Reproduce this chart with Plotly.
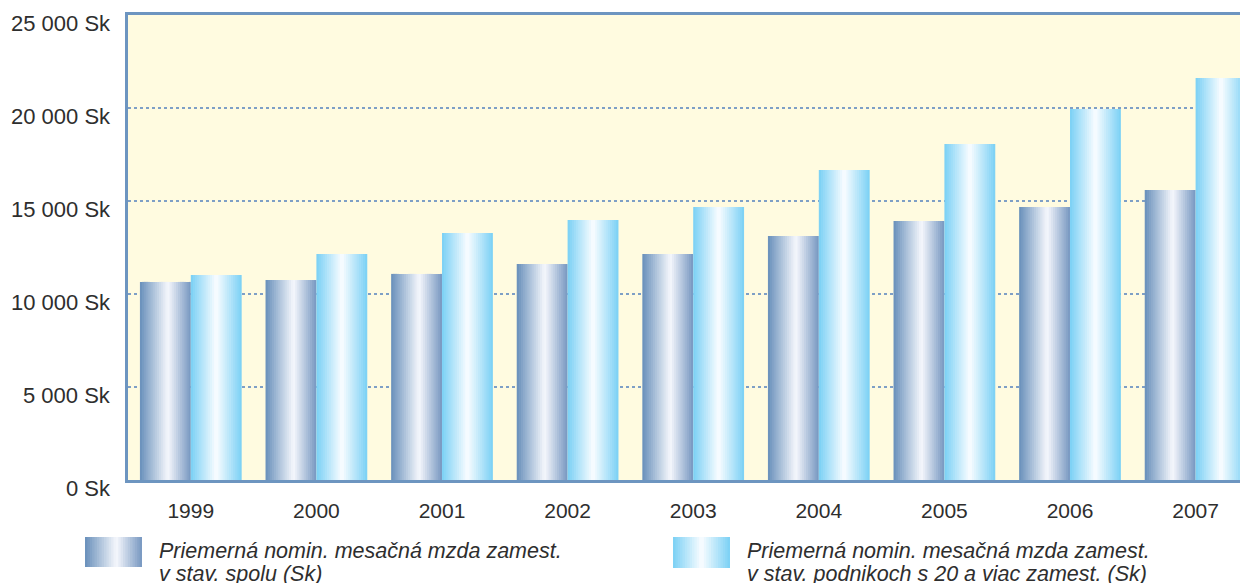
import plotly.graph_objects as go

# Data
years = ["1999", "2000", "2001", "2002", "2003", "2004", "2005", "2006", "2007"]
wage_all = [10650, 10750, 11080, 11610, 12150, 13120, 13930, 14680, 15590]
wage_20plus = [11020, 12150, 13280, 13980, 14680, 16670, 18070, 19950, 21610]
y_tick_vals = [0, 5000, 10000, 15000, 20000, 25000]
y_tick_text = ["0 Sk", "5 000 Sk", "10 000 Sk", "15 000 Sk", "20 000 Sk", "25 000 Sk"]
legend_all = ["Priemerná nomin. mesačná mzda zamest.", "v stav. spolu (Sk)"]
legend_20plus = ["Priemerná nomin. mesačná mzda zamest.",
                 "v stav. podnikoch s 20 a viac zamest. (Sk)"]

FONT = "Liberation Sans, Arial, sans-serif"
TEXT_COLOR = "#2e2e2e"
AXIS_BLUE = "#6d95c0"

# horizontal gradients (position, rgb)
GRAD_ALL = [(0.0, (104, 143, 186)), (0.55, (246, 248, 253)), (1.0, (118, 150, 192))]
GRAD_20 = [(0.0, (122, 208, 245)), (0.5, (250, 253, 255)), (1.0, (122, 208, 245))]

N_SLICES = 24

# the page body has an 8px margin: the figure is drawn from (8, 8)
# and the visible part ends at x=1240, y=583
OFFSET = 8
FIG_W, FIG_H = 1232, 575
# plot area in page pixels
PLOT_L, PLOT_R, PLOT_T, PLOT_B = 128, 1240, 15, 480
CAT_STEP_PX = 125.6  # one category in the reference, the last one runs off the edge


def blend(stops, t):
    for (t0, c0), (t1, c1) in zip(stops[:-1], stops[1:]):
        if t0 <= t <= t1:
            f = (t - t0) / (t1 - t0)
            c = [round(a + (b - a) * f) for a, b in zip(c0, c1)]
            return f"rgb({c[0]},{c[1]},{c[2]})"
    c = stops[-1][1]
    return f"rgb({c[0]},{c[1]},{c[2]})"


def px_x(x):
    return (x - PLOT_L) / (PLOT_R - PLOT_L)


def px_y(y):
    return (PLOT_B - y) / (PLOT_B - PLOT_T)


fig = go.Figure()


def add_gradient_bars(values, stops, start, width, name):
    step = width / N_SLICES
    for i in range(N_SLICES):
        t = (i + 0.5) / N_SLICES
        last = i == N_SLICES - 1
        fig.add_trace(
            go.Bar(
                x=years,
                y=values,
                width=step if last else step * 1.7,
                offset=start + i * step,
                marker=dict(color=blend(stops, t), line=dict(width=0)),
                showlegend=False,
                name=name,
                hoverinfo="skip" if i != N_SLICES // 2 else None,
                hovertemplate="<b>%{x}</b><br>%{y:,.0f} Sk<extra></extra>",
            )
        )


add_gradient_bars(wage_all, GRAD_ALL, -0.405, 0.405, "spolu")
add_gradient_bars(wage_20plus, GRAD_20, 0.0, 0.405, "20 a viac")


def add_swatch(x0, x1, y0, y1, stops):
    step = (x1 - x0) / N_SLICES
    for i in range(N_SLICES):
        t = (i + 0.5) / N_SLICES
        fig.add_shape(
            type="rect", xref="paper", yref="paper",
            x0=px_x(x0 + i * step), x1=px_x(x0 + (i + 1.6) * step if i < N_SLICES - 1 else x1),
            y0=px_y(y0), y1=px_y(y1),
            fillcolor=blend(stops, t), line=dict(width=0), layer="above",
        )


add_swatch(85, 142, 537, 567, GRAD_ALL)
add_swatch(673, 730, 537, 568, GRAD_20)

# legend text, two lines per item
for x, lines in [(157, legend_all), (745, legend_20plus)]:
    for y, txt in zip([550.5, 574], lines):
        fig.add_annotation(
            text=txt, xref="paper", yref="paper",
            x=px_x(x), y=px_y(y), xanchor="left", yanchor="middle",
            showarrow=False, align="left",
            font=dict(family=FONT, size=21.5, color=TEXT_COLOR, style="italic"),
        )

# y labels sit just below their gridlines in the reference
for v, txt in zip(y_tick_vals, y_tick_text):
    fig.add_annotation(
        text=txt, xref="paper", yref="y",
        x=0, y=v, xanchor="right", yanchor="middle",
        xshift=-15, yshift=-8.5, showarrow=False,
        font=dict(family=FONT, size=22, color=TEXT_COLOR),
    )

fig.update_layout(
    width=FIG_W,
    height=FIG_H,
    margin=dict(l=PLOT_L - OFFSET, r=OFFSET + FIG_W - PLOT_R,
                t=PLOT_T - OFFSET, b=OFFSET + FIG_H - PLOT_B),
    paper_bgcolor="white",
    plot_bgcolor="#fffbe0",
    barmode="overlay",
    showlegend=False,
    font=dict(family=FONT, size=22, color=TEXT_COLOR),
)

fig.update_xaxes(
    type="category",
    range=[-0.5, -0.5 + (PLOT_R - PLOT_L) / CAT_STEP_PX],
    showline=True, linecolor=AXIS_BLUE, linewidth=3, mirror=True,
    showgrid=False, ticks="", ticklabelstandoff=10,
    tickfont=dict(size=21),
)
fig.update_yaxes(
    range=[0, 25000],
    tickvals=y_tick_vals, showticklabels=False,
    showline=True, linecolor=AXIS_BLUE, linewidth=3, mirror=False,
    showgrid=True, gridcolor="#7e9fc6", gridwidth=1.5, griddash="3px,3px",
    zeroline=False, ticks="",
)

fig.write_html("out.html")
